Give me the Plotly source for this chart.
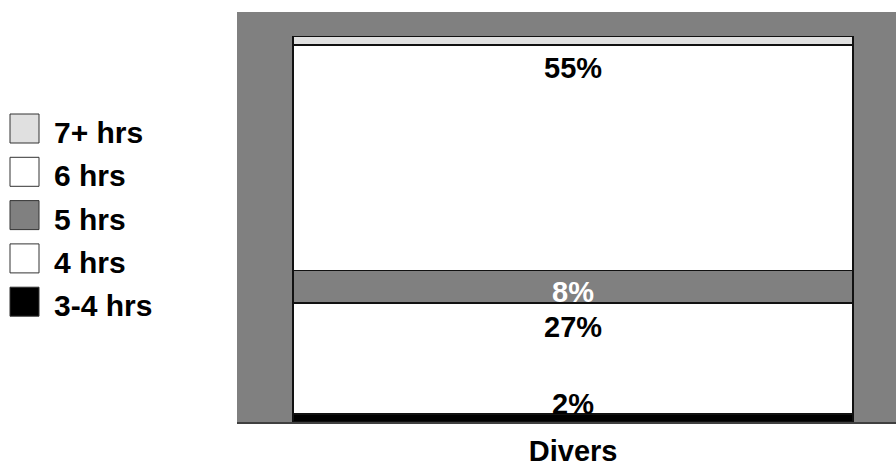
import plotly.graph_objects as go

# ---- data ----
categories = ["Divers"]
series_names = ["3-4 hrs", "4 hrs", "5 hrs", "6 hrs", "7+ hrs"]
series_values = [2, 27, 8, 55, 2]
label_texts = ["2%", "27%", "8%", "55%", ""]

# ---- styles ----
colors = ["#000000", "#ffffff", "#808080", "#ffffff", "#e0e0e0"]
label_colors = ["#000000", "#000000", "#ffffff", "#000000", "#000000"]
label_shift = [10, -24, -22, -23, 0]

W, H = 896, 466
ML, MR, MT, MB = 237, 0, 12, 44
PW, PH = W - ML - MR, H - MT - MB
FONT = "Arial, Liberation Sans, sans-serif"


def px_x(p):
    return (p - ML) / PW


def px_y(p):
    return (H - MB - p) / PH


fig = go.Figure()
for name, val, col in zip(series_names, series_values, colors):
    fig.add_trace(go.Bar(
        x=categories, y=[val], name=name,
        marker=dict(color=col, line=dict(color="#111111", width=1.5)),
        width=0.85, showlegend=False, hoverinfo="skip",
    ))

annotations = []
cum = 0
for val, txt, tc, sh in zip(series_values, label_texts, label_colors, label_shift):
    cum += val
    if txt:
        annotations.append(dict(
            x=categories[0], y=cum, xref="x", yref="y", text="<b>%s</b>" % txt,
            showarrow=False, yanchor="middle", yshift=sh,
            font=dict(family=FONT, size=29, color=tc),
        ))

# custom legend (top-down: reverse stack order)
shapes = []
row_top0, row_gap, sq = 114, 43.3, 29
for i, (name, col) in enumerate(zip(series_names[::-1], colors[::-1])):
    top = row_top0 + i * row_gap
    shapes.append(dict(
        type="rect", xref="paper", yref="paper",
        x0=px_x(10), x1=px_x(10 + sq), y0=px_y(top + sq), y1=px_y(top),
        fillcolor=col, line=dict(color="#333333", width=1),
    ))
    annotations.append(dict(
        xref="paper", yref="paper", x=px_x(52), y=px_y(top + sq / 2 + 4),
        text="<b>%s</b>" % name, showarrow=False, xanchor="left", yanchor="middle",
        font=dict(family=FONT, size=30, color="#000000"),
    ))

fig.update_layout(
    width=W, height=H,
    margin=dict(l=ML, r=MR, t=MT, b=MB, pad=0),
    paper_bgcolor="#ffffff", plot_bgcolor="#808080",
    barmode="stack", bargap=0.15,
    showlegend=False,
    xaxis=dict(range=[-0.51, 0.49], showgrid=False, zeroline=False,
               showline=True, linecolor="#404040", linewidth=2,
               ticks="", ticklabelstandoff=2,
               tickfont=dict(family=FONT, size=29, color="#000000"),
               tickprefix="<b>", ticksuffix="</b>"),
    yaxis=dict(range=[0, 100], showgrid=False, zeroline=False,
               showticklabels=False, showline=False, ticks=""),
    annotations=annotations, shapes=shapes,
    font=dict(family=FONT),
)

fig.write_html(
    "out.html",
    config={"displayModeBar": False},
    post_script="document.body.style.margin='0';document.body.style.overflow='hidden';",
)
